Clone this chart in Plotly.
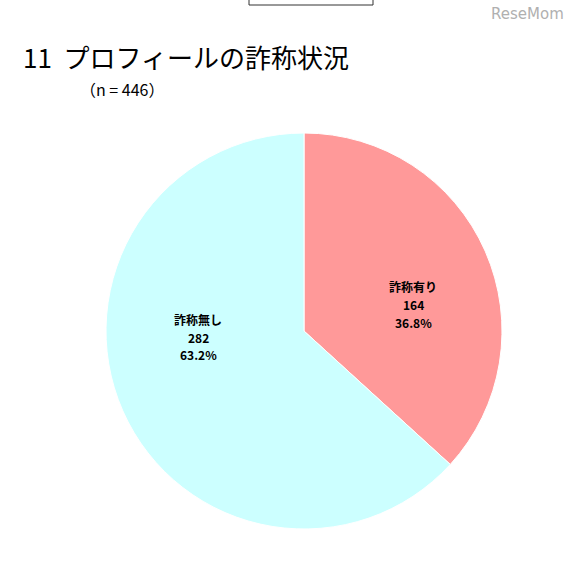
import plotly.graph_objects as go

labels = ["詐称有り", "詐称無し"]
values = [164, 282]
colors = ["#FF9999", "#CCFFFF"]

W, H = 571, 563


def px(x):
    return x / W


def py(y):
    return 1 - y / H


total = sum(values)
label_pos = [(413, 304), (198, 337)]  # reference pixel spots for slice labels
LINE_GAP = 18

fig = go.Figure(
    go.Pie(
        labels=labels,
        values=values,
        sort=False,
        direction="clockwise",
        rotation=0,
        marker=dict(colors=colors, line=dict(color="white", width=1)),
        textinfo="none",
        domain=dict(x=[px(106), px(502)], y=[py(529), py(133)]),
        hoverinfo="label+value+percent",
    )
)

annotations = [
    dict(x=px(21), y=py(56), xref="paper", yref="paper", xanchor="left",
         yanchor="middle", showarrow=False,
         text="11  プロフィールの詐称状況",
         font=dict(size=26, color="black")),
    dict(x=px(78), y=py(89), xref="paper", yref="paper", xanchor="left",
         yanchor="middle", showarrow=False, text="（n = 446）",
         font=dict(size=16, color="black")),
    dict(x=px(566), y=py(14), xref="paper", yref="paper", xanchor="right",
         yanchor="middle", showarrow=False, text="ReseMom",
         font=dict(size=15, color="#b0b0b0", family="DejaVu Sans")),
]
for lab, val, (lx, ly) in zip(labels, values, label_pos):
    lines = [lab, str(val), f"{val / total * 100:.1f}%"]
    for i, line in enumerate(lines):
        annotations.append(dict(
            x=px(lx), y=py(ly + (i - 1) * LINE_GAP), xref="paper", yref="paper",
            showarrow=False, xanchor="center", yanchor="middle",
            text=f"<b>{line}</b>", font=dict(size=12, color="black"),
        ))

fig.add_shape(type="rect", xref="paper", yref="paper",
              x0=px(249), x1=px(373), y0=py(5), y1=py(-10),
              line=dict(color="#333", width=1))

fig.update_layout(
    width=W, height=H,
    margin=dict(l=0, r=0, t=0, b=0),
    paper_bgcolor="white",
    showlegend=False,
    font=dict(family="Noto Sans CJK JP"),
    annotations=annotations,
)

# drop the default 8px page margin so the figure sits at the window corner
fig.write_html("out.html", config={"displayModeBar": False},
               post_script="document.body.style.margin='0';")
